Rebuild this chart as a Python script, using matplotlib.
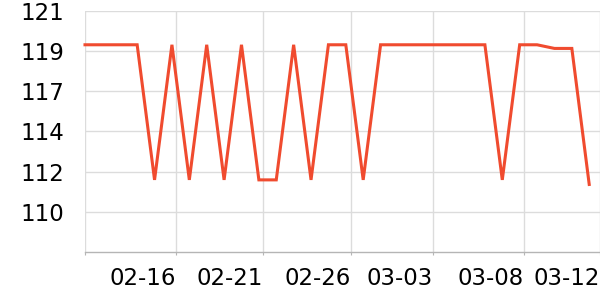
import matplotlib
matplotlib.use("Agg")
import matplotlib.pyplot as plt
import numpy as np

HI = 119.15
LO = 111.75
values = [HI, HI, HI, HI, LO, HI, LO, HI, LO, HI,
          LO, LO, HI, LO, HI, HI, LO, HI, HI, HI,
          HI, HI, HI, HI, LO, HI, HI, 118.95, 118.95, 111.5]
x_ticks = [0, 5.23, 10.24, 15.3, 20.0, 25.24, 29.6]
x_labels = ["", "02-16", "02-21", "02-26", "03-03", "03-08", "03-12"]
y_ticks = [110.0, 112.2, 114.4, 116.6, 118.8, 121.0]
y_labels = ["110", "112", "114", "117", "119", "121"]

fig = plt.figure(figsize=(6, 3), dpi=100)
ax = fig.add_axes([85/600, 48/300, 515/600, 241/300])
x = np.arange(len(values))
ax.plot(x, values, color="#f04b2f", lw=2.2, solid_joinstyle="miter", clip_on=False, zorder=3)

ax.set_xlim(0, 29.62)
ax.set_ylim(107.8, 121.0)
ax.set_yticks(y_ticks)
ax.set_yticklabels(y_labels)
ax.set_xticks(x_ticks)
ax.set_xticklabels(x_labels, ha="right")

for s in ["top", "right", "left"]:
    ax.spines[s].set_visible(False)
ax.spines["bottom"].set_color("#b5b5b5")
ax.spines["bottom"].set_linewidth(1.0)

ax.grid(True, color="#dcdcdc", lw=1.0)
ax.set_axisbelow(True)
ax.tick_params(axis="y", length=0, pad=15, labelsize=16.5, labelcolor="black")
ax.tick_params(axis="x", length=2, color="#b5b5b5", pad=8.5, labelsize=16.5, labelcolor="black")

fig.savefig("out.png", dpi=100)
